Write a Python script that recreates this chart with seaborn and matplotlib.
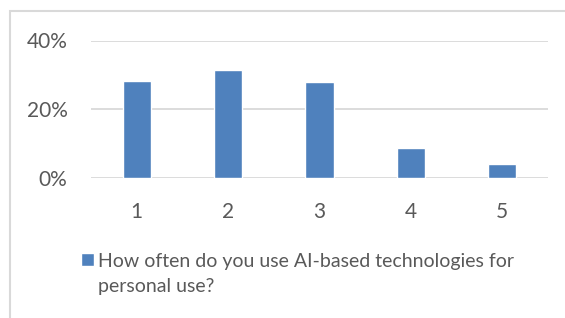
import matplotlib.pyplot as plt
import pandas as pd
import seaborn as sns
from matplotlib.patches import Rectangle
from matplotlib.ticker import PercentFormatter

categories = ['1', '2', '3', '4', '5']
shares = [0.282, 0.314, 0.279, 0.086, 0.040]
series_name = 'How often do you use AI-based technologies for\npersonal use?'
y_ticks = [0, 0.2, 0.4]

BLUE = '#4F81BD'
GRID = '#D9D9D9'
TEXT = '#595959'

if __name__ == '__main__':
    sns.set_theme(style='white')
    plt.rcParams['font.family'] = ['Lato', 'DejaVu Sans']

    df = pd.DataFrame({'answer': categories, 'share': shares})

    fig = plt.figure(figsize=(5.65, 3.18), dpi=100)
    ax = fig.add_axes([91 / 565, 1 - 178 / 318, 457 / 565, 137.5 / 318])

    sns.barplot(data=df, x='answer', y='share', color=BLUE, saturation=1,
                width=0.31, ax=ax, label=series_name)

    ax.set_ylim(0, 0.4)
    ax.set_yticks(y_ticks)
    ax.yaxis.set_major_formatter(PercentFormatter(1.0, decimals=0))
    ax.set_xlim(-0.5, 4.5)
    ax.grid(axis='y', color=GRID, lw=1.3)
    ax.set_axisbelow(True)
    for s in ax.spines.values():
        s.set_visible(False)
    ax.tick_params(axis='both', length=0, labelsize=15, colors=TEXT)
    ax.tick_params(axis='y', pad=17)
    ax.tick_params(axis='x', pad=17)
    ax.set_xlabel('')
    ax.set_ylabel('')

    leg = ax.legend(loc='upper left', bbox_to_anchor=(81 / 565, 1 - 253 / 318),
                    bbox_transform=fig.transFigure, frameon=False, fontsize=14,
                    handlelength=0.65, handleheight=0.65, handletextpad=0.25,
                    labelcolor=TEXT, borderaxespad=0, borderpad=0)
    for t in leg.get_texts():
        t.set_linespacing(1.6)
    # square sits next to the first line, not centred on both
    for col in leg._legend_handle_box.get_children():
        for item in col.get_children():
            item.align = 'top'

    # chart area border (only top and left edges fall inside the picture)
    fig.patches.append(Rectangle((10 / 565, -0.1), 1.2, 1 - 11 / 318 + 0.1,
                                 transform=fig.transFigure, fill=False,
                                 edgecolor=GRID, lw=1.5))

    plt.savefig('out.png', dpi=100)
    plt.close('all')
